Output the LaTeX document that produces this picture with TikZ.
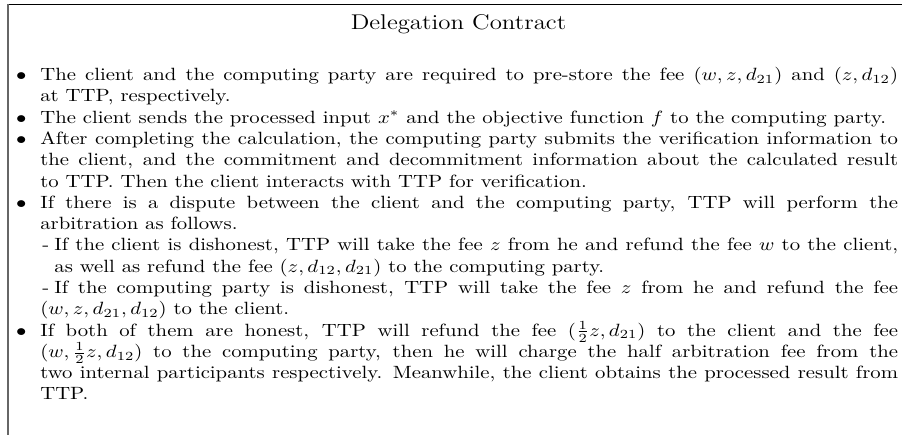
\documentclass[tikz,border=0pt]{standalone}
\usepackage{amsmath}
\usepackage{tikz}
\usetikzlibrary{positioning}

% bullet and dash entries of the contract
\newcommand{\termsetup}{\normalsize\hyphenpenalty=10000\relax\exhyphenpenalty=10000\relax\tolerance=9999\relax}
\newcommand{\contractitem}{\par\noindent\llap{$\bullet$\hspace{6.7pt}}}
\newcommand{\contractsub}[1][0pt]{\par\noindent\hangindent=#1\relax\hangafter=1\relax\hspace*{1pt}\makebox[5.8pt][l]{-}}

\begin{document}
\begin{tikzpicture}[
    x=1pt, y=1pt,
    frameline/.style={black, line width=0.75pt},
    sideline/.style={black!60, line width=0.6pt},
    wide/.style={xscale=1.168, transform shape},
    heading/.style={wide, font=\large, inner sep=0pt},
    terms/.style={wide, text width=414pt, align=justify, inner sep=0pt, font=\termsetup}
]
\useasboundingbox (0,0) rectangle (508.5,-245.2);

% Open frame
\coordinate (corner) at (4.5,-2.5);
\draw[frameline] (corner) -- (508.5,-2.5);
\draw[sideline] (corner) -- (4.5,-245.2);

% Title
\node[heading, anchor=base] (title) at (258.5,-16.8) {Delegation Contract};

% Contract terms
\node[terms, anchor=north west] (terms) at (22.5,-33.3) {%
\contractitem The client and the computing party are required to pre-store the fee $(w,z,d_{21})$ and $(z,d_{12})$\linebreak at TTP, respectively.
\contractitem The client sends the processed input $x^*$ and the objective function $f$ to the computing party.
\contractitem After completing the calculation, the computing party submits the verification information to\linebreak the client, and the commitment and decommitment information about the calculated result\linebreak to TTP. Then the client interacts with TTP for verification.
\contractitem If there is a dispute between the client and the computing party, TTP will perform the\linebreak arbitration as follows.
\contractsub[6.8pt]If the client is dishonest, TTP will take the fee $z$ from he and refund the fee $w$ to the client,\linebreak as well as refund the fee $(z,d_{12},d_{21})$ to the computing party.
\contractsub If the computing party is dishonest, TTP will take the fee $z$ from he and refund the fee\linebreak $(w,z,d_{21},d_{12})$ to the client.
\contractitem If both of them are honest, TTP will refund the fee $(\frac{1}{2}z,d_{21})$ to the client and the fee\linebreak $(w,\frac{1}{2}z,d_{12})$ to the computing party, then he will charge the half arbitration fee from the\linebreak two internal participants respectively. Meanwhile, the client obtains the processed result from\linebreak TTP.
};

\end{tikzpicture}
\end{document}
